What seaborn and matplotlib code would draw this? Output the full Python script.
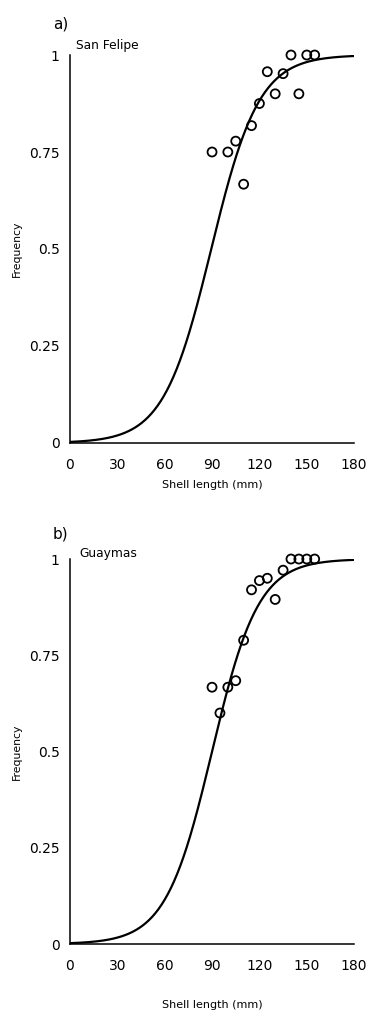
import numpy as np
import pandas as pd
import seaborn as sns
import matplotlib.pyplot as plt

# observed proportion mature per size class
length_a = [90, 100, 105, 110, 115, 120, 125, 130, 135, 140, 145, 150, 155]
freq_a = [0.75, 0.75, 0.778, 0.667, 0.818, 0.875, 0.957, 0.9, 0.952, 1.0, 0.9, 1.0, 1.0]

length_b = [90, 95, 100, 105, 110, 115, 120, 125, 130, 135, 140, 145, 150, 155]
freq_b = [0.667, 0.6, 0.667, 0.684, 0.789, 0.92, 0.944, 0.95, 0.895, 0.971, 1.0, 1.0, 1.0, 1.0]

# fitted logistic parameters (L50 in mm, slope)
l50_a, slope_a = 89.5, 0.066
l50_b, slope_b = 90.0, 0.068

panels = ['a)', 'b)']
sites = ['San Felipe', 'Guaymas']
xticks = [0, 30, 60, 90, 120, 150, 180]
yticks = [0, 0.25, 0.5, 0.75, 1]
ytick_labels = ['0', '0.25', '0.5', '0.75', '1']

sns.set_style('white')
plt.rcParams['font.family'] = ['DejaVu Sans']
for key in ['text.color', 'axes.labelcolor', 'xtick.color', 'ytick.color']:
    plt.rcParams[key] = 'black'

fig = plt.figure(figsize=(3.72, 10.19), dpi=100)
ax_a = fig.add_axes([0.188, 0.5653, 0.764, 0.3807])
ax_b = fig.add_axes([0.188, 0.0736, 0.764, 0.3778])

# (axes, x, y, L50, slope, xlabel pad, panel-letter y, site y)
data = [
    (ax_a, length_a, freq_a, l50_a, slope_a, 6, 1.081, 1.041),
    (ax_b, length_b, freq_b, l50_b, slope_b, 20, 1.064, 1.031),
]

for (i, (ax, xs, ys, l50, k, lpad, py, sy)) in enumerate(data):
    grid = np.linspace(0, 180, 361)
    curve = pd.DataFrame({'x': grid, 'y': 1 / (1 + np.exp(-k * (grid - l50)))})
    sns.lineplot(data=curve, x='x', y='y', color='black', linewidth=1.6, ax=ax)

    pts = pd.DataFrame({'x': xs, 'y': ys})
    sns.scatterplot(data=pts, x='x', y='y', marker='o', s=42, facecolor='none',
                    edgecolor='black', linewidth=1.3, ax=ax, clip_on=False, zorder=3)

    ax.set_xlim(0, 180)
    ax.set_ylim(0, 1)
    ax.set_xticks(xticks)
    ax.set_yticks(yticks)
    ax.set_yticklabels(ytick_labels)
    for s in ['top', 'right']:
        ax.spines[s].set_visible(False)
    for s in ['left', 'bottom']:
        ax.spines[s].set_linewidth(1.1)
        ax.spines[s].set_color('black')
    ax.tick_params(axis='x', direction='inout', length=6, width=1.1, pad=7.5, labelsize=10)
    ax.tick_params(axis='y', direction='out', length=4, width=1.1, pad=3.5, labelsize=10)
    ax.set_xlabel('Shell length (mm)', fontsize=8, labelpad=lpad)
    ax.set_ylabel('Frequency', fontsize=7.8)
    ax.yaxis.set_label_coords(-0.169, 0.5)

    ax.text(-0.007, py, panels[i], transform=ax.transAxes, fontsize=11,
            ha='right', va='center')
    ax.text(0.02 + 0.014 * i, sy, sites[i], transform=ax.transAxes, fontsize=8.8,
            ha='left', va='top')

plt.savefig('out.png', dpi=100)
